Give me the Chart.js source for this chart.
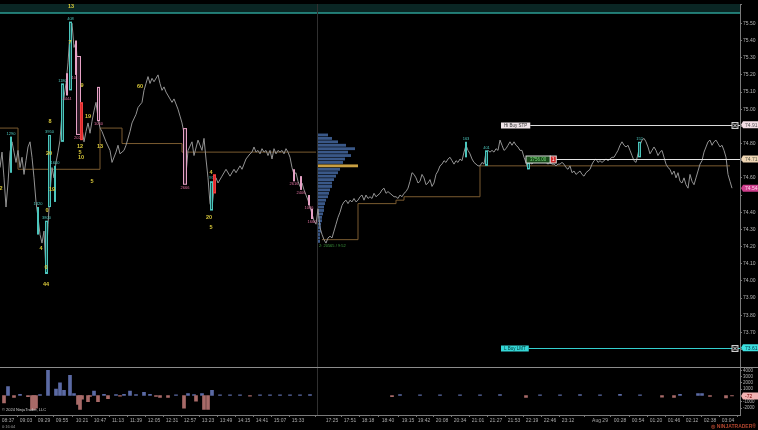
<!DOCTYPE html>
<html><head><meta charset="utf-8">
<script src="https://cdn.jsdelivr.net/npm/chart.js@4.4.1/dist/chart.umd.min.js"></script>
<style>html,body{margin:0;padding:0;background:#000;}#wrap{position:relative;width:758px;height:430px;}</style>
</head><body><div id="wrap"><canvas id="c"></canvas></div>
<script>
// ---------- DATA ----------
const session1Bars = [0,1,2,3,4,5,6,7,8,9,10,11,12,13,14,15,16,17,18,19,20,21,22,23,24,25,26,27,28,29,30,31,32,33,34,35,36,37,38,39,40,41,42,43,44,45,46,47,48,49,50,51,53,55,56,58,59,60,62,63,65,66,68,69,71,72,73,74,75,76,77,79,80,81,82,83,85,86,87,89,90,91,92,93,94,96,97,99,101,102,103,104,105,106,107,108,109,111,113,115,117,118,120,121,123,125,126,127,128,129,130,131,132,133,134,135,136,137,138,139,140,141,142,143,144,145,146,147,148,149,150,151,152,153,154,155,156,157,158];
const session1Close = [74.66,74.75,74.60,74.43,74.57,74.75,74.81,74.75,74.69,74.76,74.66,74.72,74.62,74.70,74.78,74.81,74.72,74.60,74.46,74.37,74.27,74.22,74.29,74.05,74.33,74.51,74.66,74.60,74.69,74.75,74.82,74.98,75.07,75.15,75.27,75.45,75.50,75.36,75.39,75.21,74.98,74.89,74.81,74.87,74.92,74.86,74.93,74.99,75.04,74.95,74.89,74.87,74.81,74.76,74.69,74.75,74.79,74.74,74.76,74.79,74.87,74.92,74.97,75.01,75.04,75.11,75.15,75.19,75.15,75.18,75.16,75.20,75.15,75.11,75.13,75.10,75.06,75.04,75.06,75.00,74.96,74.92,74.86,74.62,74.76,74.81,74.73,74.82,74.76,74.83,74.71,74.60,74.45,74.42,74.55,74.60,74.57,74.61,74.65,74.61,74.65,74.63,74.67,74.65,74.71,74.74,74.75,74.78,74.75,74.76,74.74,74.77,74.75,74.76,74.73,74.76,74.71,74.77,74.74,74.76,74.75,74.76,74.74,74.77,74.75,74.72,74.66,74.62,74.63,74.58,74.55,74.57,74.53,74.50,74.47,74.43,74.39,74.35,74.33];
const session2StartBar = 159;
const session2Close = [74.42,74.31,74.27,74.24,74.22,74.25,74.26,74.25,74.29,74.33,74.37,74.40,74.44,74.46,74.47,74.45,74.47,74.46,74.48,74.46,74.47,74.49,74.50,74.47,74.50,74.48,74.49,74.48,74.51,74.49,74.50,74.51,74.53,74.54,74.51,74.52,74.51,74.50,74.49,74.49,74.48,74.50,74.49,74.51,74.52,74.54,74.58,74.63,74.62,74.60,74.57,74.58,74.62,74.60,74.56,74.57,74.59,74.55,74.57,74.62,74.64,74.67,74.68,74.70,74.69,74.71,74.72,74.70,74.68,74.70,74.69,74.71,74.70,74.75,74.79,74.76,74.74,74.71,74.69,74.68,74.67,74.67,74.69,74.68,74.75,74.76,74.75,74.76,74.75,74.77,74.76,74.82,74.79,74.76,74.77,74.79,74.81,74.79,74.81,74.79,74.78,74.76,74.76,74.72,74.69,74.65,74.69,74.68,74.70,74.69,74.69,74.71,74.70,74.71,74.69,74.68,74.69,74.68,74.68,74.67,74.68,74.68,74.69,74.68,74.66,74.65,74.67,74.63,74.64,74.62,74.63,74.64,74.62,74.61,74.63,74.64,74.65,74.68,74.70,74.71,74.69,74.70,74.69,74.70,74.71,74.70,74.71,74.72,74.72,74.74,74.76,74.79,74.81,74.79,74.78,74.79,74.76,74.73,74.70,74.69,74.74,74.79,74.82,74.83,74.81,74.78,74.74,74.76,74.78,74.76,74.73,74.75,74.76,74.72,74.68,74.66,74.65,74.62,74.64,74.60,74.63,74.58,74.57,74.60,74.56,74.54,74.62,74.58,74.56,74.60,74.64,74.68,74.70,74.75,74.78,74.81,74.82,74.79,74.81,74.82,74.80,74.78,74.79,74.76,74.72,74.62,74.58,74.54];

// stepped reference level (brown)
const levelBars  = [0,9,50,61,91,158,159,161,179,198,202,240,365];
const levelPrice = [74.89,74.65,74.89,74.80,74.75,74.75,null,74.24,74.45,74.47,74.49,74.67,74.67];

// volume profile of the first session
const profileStartBar = 159;
const profilePrice  = [74.85,74.83,74.81,74.79,74.77,74.75,74.73,74.71,74.69,74.67,74.65,74.63,74.61,74.59,74.57,74.55,74.53,74.51,74.49,74.47,74.45,74.43,74.41,74.39,74.37,74.35,74.33,74.31,74.29,74.27,74.25,74.23];
const profileVolume = [1000,1400,2000,2800,3700,3000,3300,2700,2500,4000,2200,2000,1800,1600,1400,1400,1200,1100,1000,800,700,600,600,500,400,400,300,300,300,200,200,200];
const profilePoc = 74.67;
const profileNote = '2: 20565 / 9:52';

// cumulative delta bars (lower panel)
const deltaBars  = [2,4,7,10,14,16,17,18,20,24,28,30,32,35,37,39,40,41,44,45,47,49,52,54,58,60,62,65,68,72,75,78,80,84,88,92,94,97,98,101,102,104,106,110,115,120,125,130,135,140,145,150,155,196,200,210,220,230,240,250,263,270,280,290,300,310,320,331,337,340,349,351,355,363,366];
const deltaValue = [-1200,1400,-300,200,-200,-2200,-2200,-2000,150,4000,1000,2000,800,3200,300,-1400,-2200,-600,-1000,-150,700,-1000,200,-500,150,-100,200,700,150,500,200,-150,-300,-300,100,-2000,300,150,-900,300,-2200,-2200,800,100,100,100,-100,100,100,100,100,100,150,-200,150,100,100,100,100,150,-300,100,100,150,100,200,100,-250,-300,200,300,300,-150,-400,-72];
const deltaLast = -72;

// large-trade markers
const markerFrom = [5,18.5,22.5,24,27,30.5,34.5,105,232.5,242.5,263.5,319,33,37.5,38,48.5,91.5,146.5,150,154,155.5,40,106.5];
const markerTo   = [6,19.5,24,25.5,28,32,36,106.5,233.5,244,265,320.5,34,38.5,40.5,50,93.5,147.5,151,155,156.5,41.5,108];
const markerHigh = [74.84,74.43,74.35,74.85,74.67,75.15,75.51,74.58,74.81,74.76,74.69,74.81,75.21,75.40,75.31,75.13,74.89,74.65,74.61,74.50,74.42,75.04,74.62];
const markerLow  = [74.63,74.27,74.04,74.43,74.46,74.81,75.11,74.41,74.72,74.67,74.65,74.72,75.08,75.20,74.85,74.93,74.56,74.58,74.53,74.44,74.36,74.82,74.51];
const markerKind = ['buy','buy','buy','buy','buy','buy','buy','buy','buy','buy','buy','buy','sell','sell','sell','sell','sell','sell','sell','sell','sell','hit','hit'];
const markerText = ['1290','1320','3800','3950','1600','1180','408','95','163','401','105','152','4444','1001','2020','1060','2666','2616','2406','1066','1660','',''];

// yellow count notes
const noteBar   = [35.5,35,41,25,44,24.5,40,40,40.5,50,26,46,23.5,20.5,23,23,0.5,70,105.5,104.5,105.5];
const notePrice = [75.60,75.39,75.14,74.93,74.96,74.74,74.78,74.75,74.72,74.78,74.53,74.58,74.41,74.19,74.08,73.98,74.54,75.13,74.63,74.37,74.31];
const noteText  = ['13','7','9','8','19','20','12','5','10','13','19','5','0','4','0','44','2','60','4','20','5'];

// orders / position
const hiBuyStp = 74.91, lBuyLmt = 73.61, positionPrice = 74.71, lastPrice = 74.54;
const orderStartBar = 250.5, positionStartBar = 263;
const positionPnl = '3756.00', positionQty = '1';
const topZonePrice = 75.56;
const sessionBreakBar = 158.5;

// axis
const timeTickBar = [4,13,22,31,41,50,59,68,77,86,95,104,113,122,131,140,149,166,175,184,194,204,212,221,230,239,248,257,266,275,284,300,310,319,328,337,346,355,364];
const timeTickLabel = ['08:37','09:03','09:29','09:55','10:21','10:47','11:13','11:39','12:05','12:31','12:57','13:23','13:49','14:15','14:41','15:07','15:33','17:25','17:51','18:18','18:40','19:15','19:42','20:08','20:34','21:01','21:27','21:53','22:19','22:46','23:12','Aug 29','00:28','00:54','01:20','01:46','02:12','02:38','03:04'];
const deltaTickValue = [4000,3000,2000,1000,-1000,-2000];
const priceTags = [hiBuyStp, positionPrice, lastPrice, lBuyLmt];

// ---------- BUILD ----------
const FONT = '"Liberation Sans", Arial, sans-serif';
const closePoints = session1Bars.map((b,i)=>({x:b,y:session1Close[i]}))
  .concat(session2Close.map((v,i)=>({x:session2StartBar+i,y:v})));
const levelPoints = levelBars.map((b,i)=>({x:b,y:levelPrice[i]}));
const deltaPoints = deltaBars.map((b,i)=>({x:b,y:deltaValue[i]}));

function seg(ctx,x1,y1,x2,y2){ctx.beginPath();ctx.moveTo(x1,y1);ctx.lineTo(x2,y2);ctx.stroke();}
function text(ctx,s,x,y,color,size,align,bold){ctx.fillStyle=color;ctx.font=(bold?'bold ':'')+size+'px '+FONT;ctx.textAlign=align||'left';ctx.textBaseline='middle';ctx.fillText(s,x,y);}
function tag(ctx,a,W,y,s,fill,color){
  const h=7;ctx.fillStyle=fill;ctx.beginPath();
  ctx.moveTo(a.right+1,y);ctx.lineTo(a.right+3,y-h/2);ctx.lineTo(W,y-h/2);ctx.lineTo(W,y+h/2);ctx.lineTo(a.right+3,y+h/2);ctx.closePath();ctx.fill();
  text(ctx,s,a.right+5,y+0.5,color,5,'left');
}
function xIcon(ctx,x,y){
  ctx.fillStyle='#1a1a1a';ctx.fillRect(x-3,y-3,6,6);ctx.strokeStyle='#cfcfcf';ctx.lineWidth=1;ctx.strokeRect(x-3,y-3,6,6);
  seg(ctx,x-2,y-2,x+2,y+2);seg(ctx,x+2,y-2,x-2,y+2);
}

const overlay = {
  id:'overlay',
  beforeDraw(c){
    const {ctx,chartArea:a}=c;const xs=c.scales.x,ys=c.scales.y;
    ctx.save();
    ctx.fillStyle='#000';ctx.fillRect(0,0,c.width,c.height);
    const yb=ys.getPixelForValue(topZonePrice);
    ctx.fillStyle='#0a2624';ctx.fillRect(a.left,a.top,a.right-a.left,yb-a.top);
    ctx.strokeStyle='#2b9d93';ctx.lineWidth=1.5;seg(ctx,a.left,yb,a.right,yb);
    const sx=Math.round(xs.getPixelForValue(sessionBreakBar))+0.5;
    ctx.strokeStyle='#303030';ctx.lineWidth=1;seg(ctx,sx,a.top,sx,a.bottom);
    ctx.restore();
  },
  beforeDatasetsDraw(c){
    const {ctx}=c;const xs=c.scales.x,ys=c.scales.y;
    ctx.save();
    const x0=xs.getPixelForValue(profileStartBar);
    const full=xs.getPixelForValue(profileStartBar+20)-x0;
    const maxV=Math.max(...profileVolume);
    const rowH=Math.abs(ys.getPixelForValue(profilePrice[0])-ys.getPixelForValue(profilePrice[1]));
    profilePrice.forEach((p,i)=>{
      const yc=ys.getPixelForValue(p);
      const w=profileVolume[i]/maxV*full;
      ctx.fillStyle=(Math.abs(p-profilePoc)<1e-6)?'#c9a042':'#3a5888';
      ctx.fillRect(x0,yc-rowH/2+0.3,w,rowH-0.6);
    });
    const yl=ys.getPixelForValue(profilePrice[profilePrice.length-1]);
    text(ctx,profileNote,x0+1,yl+5,'#3d9a3d',4,'left');
    ctx.restore();
  },
  afterDraw(c){
    const {ctx,chartArea:a}=c;const W=c.width;const xs=c.scales.x,ys=c.scales.y,yd=c.scales.yd;
    const X=v=>xs.getPixelForValue(v),Y=v=>ys.getPixelForValue(v);
    ctx.save();
    // markers
    markerFrom.forEach((f,i)=>{
      const x0=X(f),x1=X(markerTo[i]),y0=Y(markerHigh[i]),y1=Y(markerLow[i]);
      const k=markerKind[i];
      if(k==='buy'){ctx.fillStyle='#174c4a';ctx.strokeStyle='#4cc6bd';}
      else if(k==='sell'){ctx.fillStyle='#2e1a26';ctx.strokeStyle='#e6a2c6';}
      else {ctx.fillStyle='#d8262a';ctx.strokeStyle='#f04040';}
      ctx.lineWidth=1;ctx.fillRect(x0,y0,x1-x0,y1-y0);ctx.strokeRect(x0+0.5,y0+0.5,Math.max(1,x1-x0-1),y1-y0-1);
      if(markerText[i]){
        if(k==='buy') text(ctx,markerText[i],(x0+x1)/2,y0-3,'#4cc6bd',4,'center');
        else text(ctx,markerText[i],(x0+x1)/2,y1+3,'#e070a0',4,'center');
      }
    });
    // notes
    noteBar.forEach((b,i)=>text(ctx,noteText[i],X(b),Y(notePrice[i]),'#d9c83a',5.5,'center',true));
    // orders
    ctx.font='4.5px '+FONT;
    const drawOrder=(price,label,boxFill,boxText,lineCol)=>{
      const y=Math.round(Y(price))+0.5;const bx=X(orderStartBar);
      ctx.font='4.5px '+FONT;
      const bw=ctx.measureText(label).width+6;
      ctx.strokeStyle=lineCol;ctx.lineWidth=1;seg(ctx,bx+bw,y,a.right,y);
      ctx.fillStyle=boxFill;ctx.fillRect(bx,y-3,bw,6);
      text(ctx,label,bx+3,y+0.3,boxText,4.5,'left');
      xIcon(ctx,a.right-5,y);
    };
    drawOrder(hiBuyStp,'Hi Buy STP','#efe4e8','#333','#dcdcdc');
    drawOrder(lBuyLmt,'L Buy LMT','#34d6d6','#033','#34d0d0');
    // position line
    {
      const y=Math.round(Y(positionPrice))+0.5;const bx=X(positionStartBar);
      ctx.strokeStyle='#e6e6e6';ctx.lineWidth=1;seg(ctx,bx,y,a.right,y);
      ctx.font='4.5px '+FONT;const bw=ctx.measureText(positionPnl).width+8;
      ctx.fillStyle='#184a1a';ctx.fillRect(bx,y-3.5,bw,7);ctx.strokeStyle='#d8d8d8';ctx.strokeRect(bx,y-3.5,bw,7);
      text(ctx,positionPnl,bx+bw/2,y+0.3,'#7ee07e',4.5,'center');
      ctx.fillStyle='#d02828';ctx.fillRect(bx+bw,y-3.5,6,7);ctx.strokeRect(bx+bw,y-3.5,6,7);
      text(ctx,positionQty,bx+bw+3,y+0.3,'#fff',4.5,'center');
    }
    // panel separator
    const sepY=Math.round(ys.bottom)+0.5;
    ctx.strokeStyle='#8c8c8c';ctx.lineWidth=1;seg(ctx,0,sepY,W,sepY);
    // tags
    tag(ctx,a,W,Y(hiBuyStp),hiBuyStp.toFixed(2),'#f3dde5','#555');
    tag(ctx,a,W,Y(positionPrice),positionPrice.toFixed(2),'#efd6b4','#554');
    tag(ctx,a,W,Y(lastPrice),lastPrice.toFixed(2),'#cf3f8d','#ffd6ec');
    tag(ctx,a,W,Y(lBuyLmt),lBuyLmt.toFixed(2),'#3ce0e0','#034');
    tag(ctx,a,W,yd.getPixelForValue(deltaLast),String(deltaLast),'#f2b2b2','#700');
    // captions
    text(ctx,'\u00A9 2024 NinjaTrader, LLC',2,yd.bottom-5,'#cfcfcf',4,'left');
    text(ctx,'0:16:04',2,c.height-3,'#9a9a9a',4,'left');
    text(ctx,'\u25CE NINJATRADER\u00AE',W-2,c.height-3,'#b2452e',5,'right',true);
    ctx.restore();
  }
};

new Chart(document.getElementById('c'),{
  type:'line',
  data:{datasets:[
    {label:'Close',data:closePoints,borderColor:'#939393',borderWidth:1,pointRadius:0,tension:0,yAxisID:'y',order:2},
    {label:'Level',data:levelPoints,borderColor:'#7a5b30',borderWidth:1,pointRadius:0,stepped:'before',spanGaps:false,yAxisID:'y',order:3},
    {type:'bar',label:'Delta',data:deltaPoints,yAxisID:'yd',barThickness:3,borderWidth:0,
     backgroundColor:deltaValue.map(v=>v>=0?'#5b6aa4':'#a86a68'),order:1}
  ]},
  options:{
    responsive:true,maintainAspectRatio:false,animation:false,devicePixelRatio:1,
    layout:{padding:0},
    plugins:{legend:{display:false},tooltip:{enabled:false}},
    scales:{
      x:{type:'linear',position:'bottom',min:0,max:370,offset:false,
        grid:{display:true,drawOnChartArea:false,drawTicks:true,tickLength:2,color:'#777'},
        border:{color:'#7a7a7a'},
        afterBuildTicks:s=>{s.ticks=timeTickBar.map(v=>({value:v}));},
        afterFit:s=>{s.height=15;},
        ticks:{autoSkip:false,maxRotation:0,minRotation:0,padding:1,color:'#a8a8a8',font:{size:5,family:FONT},
          callback:(v,i)=>timeTickLabel[i]}},
      y:{type:'linear',position:'right',stack:'panes',stackWeight:366,min:73.496,max:75.613,
        grid:{display:true,drawOnChartArea:false,drawTicks:true,tickLength:2,color:'#777'},
        border:{color:'#7a7a7a'},
        afterFit:s=>{s.width=18;},
        ticks:{autoSkip:false,stepSize:0.1,padding:1,color:'#b4b4b4',font:{size:5,family:FONT},
          callback:v=>{
            if(Math.abs(v*10-Math.round(v*10))>1e-6) return '';
            if(v>75.55) return '';
            if(priceTags.some(t=>Math.abs(t-v)<0.05)) return '';
            return v.toFixed(2);}}},
      yd:{type:'linear',position:'right',stack:'panes',stackWeight:48,min:-3100,max:4470,
        grid:{display:true,drawOnChartArea:false,drawTicks:true,tickLength:2,color:'#777'},
        border:{color:'#7a7a7a'},
        afterFit:s=>{s.width=18;},
        afterBuildTicks:s=>{s.ticks=deltaTickValue.map(v=>({value:v}));},
        ticks:{autoSkip:false,padding:1,color:'#b4b4b4',font:{size:4.5,family:FONT},
          callback:v=>String(v)}}
    }
  },
  plugins:[overlay]
});
</script></body></html>
